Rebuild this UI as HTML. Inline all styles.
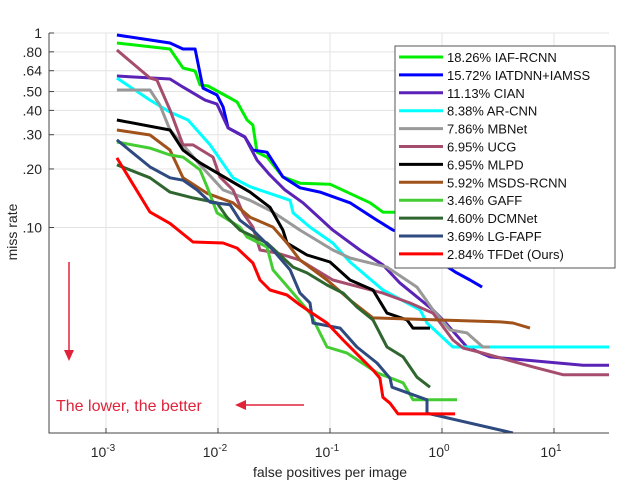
<!DOCTYPE html>
<html><head><meta charset="utf-8"><style>
html,body{margin:0;padding:0;background:#fff;}
svg{display:block;font-family:"Liberation Sans",sans-serif;}
</style></head><body>
<svg id="chart" width="640" height="487" viewBox="0 0 640 487" xmlns="http://www.w3.org/2000/svg">
<defs><clipPath id="plotclip"><rect x="49" y="30" width="560" height="403"/></clipPath></defs>
<g id="grid"></g>
<g id="series" clip-path="url(#plotclip)"></g>
<g id="axes"></g>
<text transform="translate(17,232) rotate(-90)" text-anchor="middle" font-size="14" fill="#262626">miss rate</text>
<text x="330" y="477" text-anchor="middle" font-size="14" fill="#262626">false positives per image</text>
<g>
<line x1="69" y1="262" x2="69" y2="352" stroke="#e0223a" stroke-width="1.5"/>
<polygon points="64,350 74,350 69,361" fill="#e0223a"/>
</g>
<text x="56" y="411" font-size="16" fill="#e0223a">The lower, the better</text>
<g>
<line x1="244" y1="405" x2="304" y2="405" stroke="#e0223a" stroke-width="1.5"/>
<polygon points="246,400 246,410 235,405" fill="#e0223a"/>
</g>
<g id="legend"></g>
</svg>
<script>
const names=["18.26% IAF-RCNN","15.72% IATDNN+IAMSS","11.13% CIAN","8.38% AR-CNN","7.86% MBNet","6.95% UCG","6.95% MLPD","5.92% MSDS-RCNN","3.46% GAFF","4.60% DCMNet","3.69% LG-FAPF","2.84% TFDet (Ours)"];
const colors=["#00ee00","#0000ff","#5a22b6","#00ffff","#999999","#a64d6e","#000000","#a0521a","#44cc33","#2f6630","#2e4a7f","#ff0000"];
const xTicks=[0.001,0.01,0.1,1,10];
const xTickLabels=["-3","-2","-1","0","1"];
const yTicks=[1,0.8,0.64,0.5,0.4,0.3,0.2,0.1];
const yTickLabels=["1",".80",".64",".50",".40",".30",".20",".10"];
const fpIAF=[0.00125,0.00373,0.00487,0.00624,0.0069,0.00815,0.0128,0.0148,0.0182,0.0205,0.0223,0.0274,0.038,0.054,0.1,0.228,0.297,0.96,31];
const mrIAF=[0.888,0.827,0.661,0.638,0.541,0.534,0.463,0.442,0.357,0.336,0.244,0.230,0.182,0.169,0.167,0.134,0.120,0.119,0.113];
const fpIAT=[0.00125,0.00373,0.00487,0.00624,0.00735,0.0098,0.0111,0.0123,0.0174,0.0205,0.0274,0.038,0.054,0.0814,0.151,0.263,0.365,0.518,0.637,0.96,1.31,1.78,2.28];
const mrIAT=[0.977,0.888,0.827,0.827,0.521,0.480,0.417,0.325,0.292,0.250,0.244,0.182,0.160,0.152,0.134,0.109,0.097,0.0915,0.0766,0.0665,0.0591,0.0537,0.0494];
const fpCIAN=[0.00125,0.00373,0.00487,0.00766,0.0098,0.0123,0.0174,0.0223,0.0291,0.0396,0.0574,0.106,0.185,0.297,0.422,0.831,1.06,1.67,2.68,18.2,31];
const mrCIAN=[0.601,0.580,0.527,0.452,0.431,0.325,0.292,0.222,0.186,0.156,0.134,0.097,0.0766,0.0642,0.0518,0.0377,0.0327,0.0243,0.0216,0.0196,0.0196];
const fpAR=[0.00125,0.00247,0.00373,0.0054,0.0085,0.0136,0.0193,0.044,0.0468,0.0663,0.106,0.151,0.297,0.637,0.735,1.25,31];
const mrAR=[0.587,0.452,0.392,0.357,0.266,0.180,0.162,0.138,0.119,0.1005,0.0832,0.0665,0.0477,0.0377,0.0323,0.0243,0.0243];
const fpMB=[0.00125,0.00247,0.00303,0.00373,0.00487,0.0069,0.0111,0.0193,0.031,0.054,0.106,0.151,0.323,0.598,0.831,1.18,1.67,2.32,2.68];
const mrMB=[0.509,0.509,0.426,0.317,0.266,0.210,0.156,0.138,0.120,0.097,0.0766,0.0697,0.0626,0.0494,0.0377,0.0297,0.0287,0.0243,0.0243];
const fpUCG=[0.00125,0.00247,0.00285,0.00373,0.00487,0.00598,0.00902,0.0104,0.0136,0.0167,0.0205,0.0237,0.0336,0.054,0.106,0.297,0.518,0.831,1.25,1.54,2.32,6.5,12.0,31];
const mrUCG=[0.818,0.587,0.573,0.402,0.266,0.266,0.230,0.182,0.156,0.119,0.1005,0.0766,0.0739,0.068,0.0537,0.046,0.0409,0.0363,0.0264,0.024,0.0226,0.0192,0.0175,0.0175];
const fpMLPD=[0.00125,0.00373,0.00487,0.0069,0.0136,0.0193,0.0291,0.038,0.0413,0.0623,0.1,0.151,0.242,0.323,0.487,0.551,0.781];
const mrMLPD=[0.357,0.317,0.250,0.215,0.171,0.152,0.127,0.097,0.0832,0.0722,0.0665,0.0537,0.0477,0.0363,0.0335,0.0304,0.0304];
const fpMSDS=[0.00125,0.00247,0.00373,0.00487,0.00798,0.0136,0.0193,0.031,0.0413,0.054,0.094,0.151,0.242,3.3,4.3,6.1];
const mrMSDS=[0.317,0.299,0.250,0.180,0.150,0.134,0.113,0.1005,0.0832,0.068,0.0537,0.0424,0.0343,0.0327,0.0323,0.0304];
const fpGAFF=[0.00125,0.00247,0.00373,0.00487,0.0069,0.00798,0.0098,0.0157,0.0182,0.0274,0.031,0.0468,0.0663,0.094,0.142,0.263,0.449,0.551,1.36];
const mrGAFF=[0.275,0.256,0.236,0.230,0.198,0.162,0.119,0.1005,0.0894,0.0794,0.0605,0.046,0.0363,0.0243,0.0226,0.0179,0.0159,0.0130,0.0130];
const fpDCM=[0.00125,0.00247,0.00373,0.00598,0.0098,0.0120,0.0157,0.0274,0.0468,0.0623,0.094,0.131,0.174,0.242,0.323,0.449,0.598,0.781];
const mrDCM=[0.210,0.180,0.152,0.142,0.134,0.113,0.097,0.0832,0.0626,0.0584,0.0506,0.046,0.039,0.0335,0.0243,0.0216,0.017,0.0151];
const fpLG=[0.00125,0.00247,0.00373,0.00487,0.0065,0.0085,0.0128,0.0157,0.0205,0.031,0.044,0.054,0.0663,0.0705,0.123,0.174,0.263,0.343,0.358,0.735,0.735,4.3];
const mrLG=[0.282,0.205,0.180,0.175,0.156,0.135,0.131,0.109,0.097,0.0766,0.0605,0.046,0.0409,0.0323,0.0304,0.0243,0.0201,0.0168,0.0151,0.0130,0.0111,0.00878];
const fpTF=[0.00125,0.00247,0.00373,0.00598,0.0111,0.0148,0.0205,0.0237,0.0291,0.0413,0.054,0.069,0.094,0.131,0.185,0.242,0.279,0.297,0.343,0.405,1.31];
const mrTF=[0.228,0.120,0.105,0.0842,0.0832,0.0784,0.0657,0.0537,0.0477,0.045,0.040,0.0363,0.0323,0.0264,0.0216,0.0185,0.0168,0.0134,0.0125,0.011,0.011];

const fpAll=[fpIAF,fpIAT,fpCIAN,fpAR,fpMB,fpUCG,fpMLPD,fpMSDS,fpGAFF,fpDCM,fpLG,fpTF];
const mrAll=[mrIAF,mrIAT,mrCIAN,mrAR,mrMB,mrUCG,mrMLPD,mrMSDS,mrGAFF,mrDCM,mrLG,mrTF];
const NS="http://www.w3.org/2000/svg";
function xS(v){return 442+Math.log10(v)*112;}
function yS(v){return 33-Math.log10(v)*194.5;}
function mk(tag,attrs,parent){const e=document.createElementNS(NS,tag);for(const k in attrs)e.setAttribute(k,attrs[k]);parent.appendChild(e);return e;}
const grid=document.getElementById('grid'),axes=document.getElementById('axes'),ser=document.getElementById('series'),leg=document.getElementById('legend');
xTicks.forEach((t,i)=>{
  const x=xS(t);
  const g=mk('line',{x1:x,y1:33,x2:x,y2:433,stroke:'#e3e3e3','stroke-width':1},grid);
  
  
  const tk=mk('line',{x1:x,y1:433,x2:x,y2:428,stroke:'#444','stroke-width':1},axes);
  
  
  const tx=mk('text',{x:x-3,y:457,'text-anchor':'middle','font-size':14,fill:'#262626'},axes);
  
  
  tx.textContent='10';
  const sp=mk('tspan',{dy:-6,'font-size':10},tx);
  sp.textContent=xTickLabels[i];
});
yTicks.forEach((t,i)=>{
  const y=yS(t);
  const g=mk('line',{x1:49,y1:y,x2:609,y2:y,stroke:'#e3e3e3','stroke-width':1},grid);
  
  
  const tk=mk('line',{x1:49,y1:y,x2:54,y2:y,stroke:'#444','stroke-width':1},axes);
  
  
  const tx=mk('text',{x:42,y:y+5,'text-anchor':'end','font-size':14,fill:'#262626'},axes);
  
  
  tx.textContent=yTickLabels[i];
});
const ax1=mk('line',{x1:49,y1:33,x2:49,y2:433.5,stroke:'#444','stroke-width':1},axes);


const ax2=mk('line',{x1:49,y1:433,x2:609,y2:433,stroke:'#444','stroke-width':1},axes);


fpAll.forEach((fp,i)=>{
  const mr=mrAll[i];
  const pts=fp.map((v,j)=>xS(v).toFixed(1)+','+yS(mr[j]).toFixed(1)).join(' ');
  const p=mk('polyline',{points:pts,fill:'none',stroke:colors[i],'stroke-width':3,'stroke-linejoin':'round'},ser);
  
  
});
const box=mk('rect',{x:395,y:46,width:220,height:222,fill:'#fff',stroke:'#555','stroke-width':1},leg);


names.forEach((n,i)=>{
  const y=57+i*17.9;
  const l=mk('line',{x1:399,y1:y,x2:443,y2:y,stroke:colors[i],'stroke-width':3},leg);
  
  
  const t=mk('text',{x:447,y:y+5,'font-size':13,fill:'#111'},leg);
  
  
  t.textContent=n;
});
</script>
</body></html>
